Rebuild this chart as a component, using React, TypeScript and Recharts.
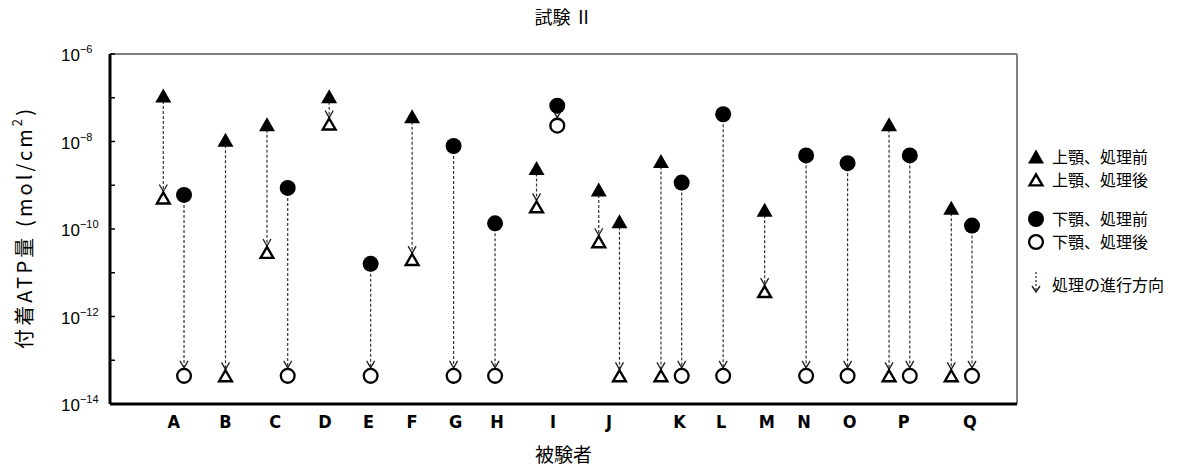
import React from 'react';
import { ScatterChart, Scatter, XAxis, YAxis, ReferenceLine } from 'recharts';

// subjects and where their labels sit on the position axis
const subjects = ['A', 'B', 'C', 'D', 'E', 'F', 'G', 'H', 'I', 'J', 'K', 'L', 'M', 'N', 'O', 'P', 'Q'];
const subjectPos = [0.5, 3, 5.4, 7.8, 9.9, 12, 14.1, 16.1, 18.8, 21.5, 24.9, 26.9, 29.1, 30.9, 33.1, 35.7, 38.9];

// upper jaw (triangles)
const upperX = [0, 3, 5, 8, 12, 18, 21, 22, 24, 29, 35, 38];
const upperBefore = [1.1e-7, 1.07e-8, 2.4e-8, 1.05e-7, 3.7e-8, 2.4e-9, 7.8e-10, 1.47e-10, 3.5e-9, 2.7e-10, 2.4e-8, 3.0e-10];
const upperAfter = [5.1e-10, 4.4e-14, 2.9e-11, 2.5e-8, 2.0e-11, 3.2e-10, 5.1e-11, 4.4e-14, 4.4e-14, 3.7e-12, 4.4e-14, 4.4e-14];

// lower jaw (circles)
const lowerX = [1, 6, 10, 14, 16, 19, 25, 27, 31, 33, 36, 39];
const lowerBefore = [6.0e-10, 8.7e-10, 1.6e-11, 7.9e-9, 1.35e-10, 6.6e-8, 1.15e-9, 4.2e-8, 4.8e-9, 3.2e-9, 4.8e-9, 1.2e-10];
const lowerAfter = [4.4e-14, 4.4e-14, 4.4e-14, 4.4e-14, 4.4e-14, 2.3e-8, 4.4e-14, 4.4e-14, 4.4e-14, 4.4e-14, 4.4e-14, 4.4e-14];

const yTicks = [1e-14, 1e-13, 1e-12, 1e-11, 1e-10, 1e-9, 1e-8, 1e-7, 1e-6];
const xDomain = [-2.57, 41.17];

const legendLabels = ['上顎、処理前', '上顎、処理後', '下顎、処理前', '下顎、処理後', '処理の進行方向'];

const jpFont = '"Noto Sans CJK JP", "Noto Sans CJK SC", sans-serif';
const numFont = '"Liberation Sans", Arial, sans-serif';
const letterFont = '"Liberation Sans Narrow", "Arial Narrow", "DejaVu Sans Condensed", "Liberation Sans", sans-serif';

const toPoints = (xs: number[], ys: number[]) => xs.map((x, i) => ({ x, y: ys[i] }));

const upperBeforeData = toPoints(upperX, upperBefore);
const upperAfterData = toPoints(upperX, upperAfter);
const lowerBeforeData = toPoints(lowerX, lowerBefore);
const lowerAfterData = toPoints(lowerX, lowerAfter);

const arrowSegments = [
  ...upperX.map((x, i) => [{ x, y: upperBefore[i] }, { x, y: upperAfter[i] }]),
  ...lowerX.map((x, i) => [{ x, y: lowerBefore[i] }, { x, y: lowerAfter[i] }]),
];

const FilledTriangle = ({ cx, cy }: any) => (
  <path d={`M${cx},${cy - 7.5} L${cx + 8},${cy + 6.5} L${cx - 8},${cy + 6.5} Z`} fill="#000" />
);
const OpenTriangle = ({ cx, cy }: any) => (
  <path
    d={`M${cx},${cy - 5.6} L${cx + 6.4},${cy + 5.4} L${cx - 6.4},${cy + 5.4} Z`}
    fill="#fff"
    stroke="#000"
    strokeWidth={2.4}
  />
);
const FilledCircle = ({ cx, cy }: any) => <circle cx={cx} cy={cy} r={8} fill="#000" />;
const OpenCircle = ({ cx, cy }: any) => (
  <circle cx={cx} cy={cy} r={6.9} fill="#fff" stroke="#000" strokeWidth={2.3} />
);
const Chevron = (tip: number) => ({ cx, cy }: any) => (
  <path
    d={`M${cx - 4},${cy - tip - 7} L${cx},${cy - tip} L${cx + 4},${cy - tip - 7}`}
    fill="none"
    stroke="#222"
    strokeWidth={1.3}
  />
);
const Nothing = () => <g />;

const YTick = ({ x, y, payload }: any) => {
  const exp = Math.round(Math.log10(payload.value));
  return (
    <g>
      <line x1={x} x2={x + 5} y1={y} y2={y} stroke="#000" strokeWidth={1.5} />
      {exp % 2 === 0 && (
        <text x={x - 49} y={y + 7} fontSize={17} fontFamily={numFont} fill="#000">
          10
          <tspan dy={-8} fontSize={11}>
            {'\u2212' + Math.abs(exp)}
          </tspan>
        </text>
      )}
    </g>
  );
};

const XTick = ({ x, y, payload }: any) => {
  const i = subjectPos.indexOf(payload.value);
  return (
    <text x={x} y={y + 24} textAnchor="middle" fontSize={18} fontWeight="bold" fontFamily={letterFont} fill="#000">
      {subjects[i]}
    </text>
  );
};

const LegendBox = () => {
  const rows = [17, 40, 79, 102, 145];
  const sym = [FilledTriangle, OpenTriangle, FilledCircle, OpenCircle];
  return (
    <svg width={166} height={170} style={{ position: 'absolute', left: 1020, top: 140 }}>
      {legendLabels.map((label, i) => {
        const y = rows[i];
        const S = sym[i];
        return (
          <g key={label}>
            {S ? (
              <S cx={16} cy={y} />
            ) : (
              <g>
                <line x1={16} x2={16} y1={y - 13} y2={y + 6} stroke="#222" strokeWidth={1.2} strokeDasharray="2 2" />
                <path d={`M12,${y + 1} L16,${y + 7} L20,${y + 1}`} fill="none" stroke="#222" strokeWidth={1.4} />
              </g>
            )}
            <text x={32} y={y + 6} fontSize={16} fontFamily={jpFont} fill="#000">
              {label}
            </text>
          </g>
        );
      })}
    </svg>
  );
};

export default function App() {
  return (
    <div style={{ position: 'absolute', left: 0, top: 0, width: 1186, height: 475, background: '#fff' }}>
      <div
        style={{
          position: 'absolute',
          left: 0,
          top: 4,
          width: 1127,
          textAlign: 'center',
          fontFamily: jpFont,
          fontSize: 18,
          lineHeight: '24px',
          zIndex: 2,
        }}
      >
        試験 Ⅱ
      </div>
      <ScatterChart width={1186} height={475} margin={{ top: 54, right: 169, bottom: 31, left: 50 }}>
        <XAxis
          type="number"
          dataKey="x"
          domain={xDomain}
          allowDataOverflow
          ticks={subjectPos}
          interval={0}
          tick={<XTick />}
          tickLine={false}
          tickSize={0}
          tickMargin={0}
          height={40}
          axisLine={{ stroke: '#000', strokeWidth: 3 }}
          label={({ viewBox }: any) => (
            <text
              x={viewBox.x + viewBox.width / 2}
              y={viewBox.y + 58}
              textAnchor="middle"
              fontSize={19}
              fontFamily={jpFont}
              fill="#000"
            >
              被験者
            </text>
          )}
        />
        <YAxis
          type="number"
          dataKey="y"
          scale="log"
          domain={[1e-14, 1e-6]}
          allowDataOverflow
          ticks={yTicks}
          interval={0}
          tick={<YTick />}
          tickLine={false}
          tickSize={0}
          tickMargin={0}
          width={60}
          axisLine={{ stroke: '#000', strokeWidth: 3 }}
          label={({ viewBox }: any) => (
            <text
              x={23}
              y={viewBox.y + viewBox.height / 2}
              transform={`rotate(-90, 23, ${viewBox.y + viewBox.height / 2})`}
              textAnchor="middle"
              dominantBaseline="central"
              fontSize={20}
              fontFamily={jpFont}
              fill="#000"
              textLength={240}
              lengthAdjust="spacing"
            >
              付着ATP量 (mol/cm<tspan dy={-7} fontSize={13}>2</tspan>
              <tspan dy={7}>)</tspan>
            </text>
          )}
        />
        <ReferenceLine y={1e-6} stroke="#808080" strokeWidth={2} ifOverflow="visible" />
        <ReferenceLine x={xDomain[1]} stroke="#808080" strokeWidth={2} ifOverflow="visible" />
        {arrowSegments.map((seg, i) => (
          <Scatter
            key={`arrow${i}`}
            data={seg}
            shape={<Nothing />}
            line={{ stroke: '#333', strokeWidth: 1.2, strokeDasharray: '3 2' }}
            lineType="joint"
            isAnimationActive={false}
            legendType="none"
          />
        ))}
        <Scatter data={upperAfterData} shape={Chevron(6.5)} isAnimationActive={false} legendType="none" />
        <Scatter data={lowerAfterData} shape={Chevron(8)} isAnimationActive={false} legendType="none" />
        <Scatter data={upperBeforeData} shape={FilledTriangle} isAnimationActive={false} />
        <Scatter data={upperAfterData} shape={OpenTriangle} isAnimationActive={false} />
        <Scatter data={lowerBeforeData} shape={FilledCircle} isAnimationActive={false} />
        <Scatter data={lowerAfterData} shape={OpenCircle} isAnimationActive={false} />
      </ScatterChart>
      <LegendBox />
    </div>
  );
}
